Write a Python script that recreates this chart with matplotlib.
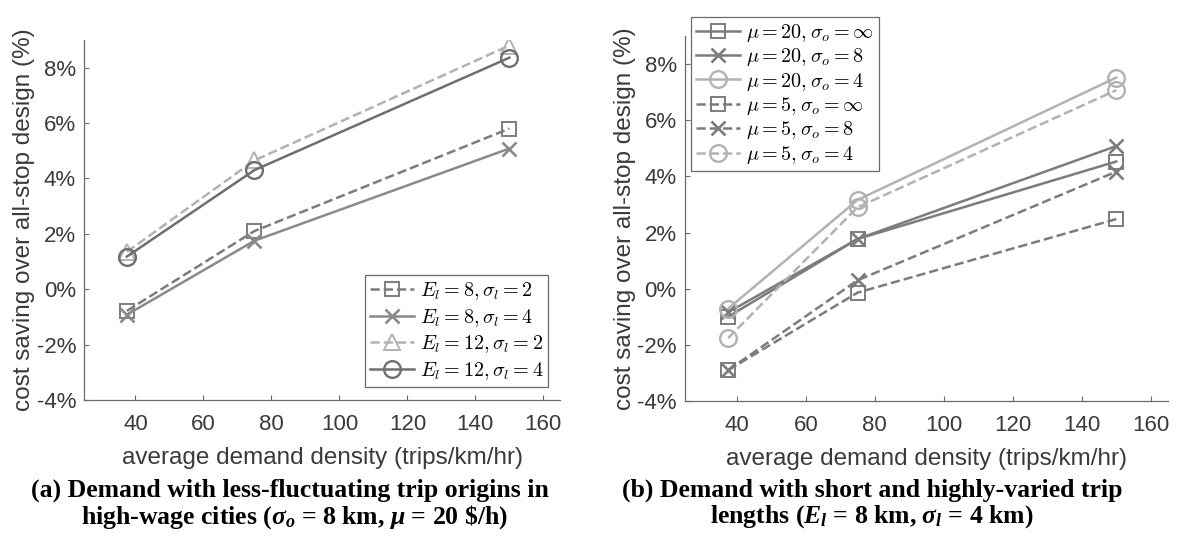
import matplotlib
matplotlib.use("Agg")
import matplotlib.pyplot as plt
from matplotlib.font_manager import FontProperties

plt.rcParams['font.family'] = ['Liberation Sans', 'DejaVu Sans']
plt.rcParams['mathtext.fontset'] = 'custom'
plt.rcParams['mathtext.rm'] = 'Liberation Serif:bold'
plt.rcParams['mathtext.it'] = 'Liberation Serif:bold:italic'
plt.rcParams['mathtext.bf'] = 'Liberation Serif:bold'

# ---- data ----
density = [37.5, 75, 150]

left_labels = [r'$E_l = 8, \sigma_l = 2$', r'$E_l = 8, \sigma_l = 4$',
               r'$E_l = 12, \sigma_l = 2$', r'$E_l = 12, \sigma_l = 4$']
e8_s2 = [-0.78, 2.10, 5.80]
e8_s4 = [-0.92, 1.75, 5.08]
e12_s2 = [1.35, 4.65, 8.80]
e12_s4 = [1.18, 4.30, 8.36]

right_labels = [r'$\mu = 20, \sigma_o = \infty$', r'$\mu = 20, \sigma_o = 8$',
                r'$\mu = 20, \sigma_o = 4$', r'$\mu = 5, \sigma_o = \infty$',
                r'$\mu = 5, \sigma_o = 8$', r'$\mu = 5, \sigma_o = 4$']
m20_inf = [-1.00, 1.77, 4.53]
m20_8 = [-0.84, 1.77, 5.08]
m20_4 = [-0.71, 3.16, 7.52]
m5_inf = [-2.90, -0.14, 2.48]
m5_8 = [-2.90, 0.30, 4.17]
m5_4 = [-1.76, 2.90, 7.07]

yticks = [-4, -2, 0, 2, 4, 6, 8]
ytick_labels = ['-4%', '-2%', '0%', '2%', '4%', '6%', '8%']
xticks = [40, 60, 80, 100, 120, 140, 160]

xlabel = 'average demand density (trips/km/hr)'
ylabel = 'cost saving over all-stop design (%)'
cap_a = ['(a) Demand with less-fluctuating trip origins in',
         r'high-wage cities ($\sigma_o$ = 8 km, $\mu$ = 20 \$/h)']
cap_b = ['(b) Demand with short and highly-varied trip',
         r'lengths ($E_l$ = 8 km, $\sigma_l$ = 4 km)']

DARK = '#6e6e6e'
MID = '#7c7c7c'
MID2 = '#8a8a8a'
LIGHT = '#b2b2b2'

fig = plt.figure(figsize=(11.77, 5.38), dpi=100)
axL = fig.add_axes([0.0717, 0.2565, 0.4044, 0.6692])
axR = fig.add_axes([0.582, 0.2546, 0.4104, 0.6785])

legprop = FontProperties(family='DejaVu Serif', size=14.5, math_fontfamily='cm')


def style(ax):
    ax.set_xlim(25, 165)
    ax.set_ylim(-4, 9)
    ax.set_xticks(xticks)
    ax.set_yticks(yticks)
    ax.set_yticklabels(ytick_labels)
    for s in ['top', 'right']:
        ax.spines[s].set_visible(False)
    for s in ['left', 'bottom']:
        ax.spines[s].set_color('#6a6a6a')
        ax.spines[s].set_linewidth(0.9)
    ax.tick_params(axis='both', direction='in', length=3.5, width=0.8,
                   color='#6a6a6a', labelsize=16, labelcolor='#3a3a3a')
    ax.tick_params(axis='x', pad=10)
    ax.tick_params(axis='y', pad=6)
    ax.set_xlabel(xlabel, fontsize=17.5, color='#3a3a3a', labelpad=9)
    ax.set_ylabel(ylabel, fontsize=17.5, color='#3a3a3a', labelpad=1)


lw = 1.8
ms_sq = 9.5
ms_x = 10
ms_c = 12
# left panel
axL.plot(density, e8_s2, ls='--', color=MID, lw=lw, marker='s', ms=ms_sq, mfc='none', mew=1.4, label=left_labels[0])
axL.plot(density, e8_s4, ls='-', color=MID2, lw=lw, marker='x', ms=ms_x, mew=1.9, label=left_labels[1])
axL.plot(density, e12_s2, ls='--', color=LIGHT, lw=lw, marker='^', ms=ms_c, mfc='none', mew=1.4, label=left_labels[2])
axL.plot(density, e12_s4, ls='-', color=DARK, lw=lw, marker='o', ms=ms_c, mfc='none', mew=1.7, label=left_labels[3])
style(axL)
legL = axL.legend(loc='lower right', bbox_to_anchor=(0.975, 0.035), prop=legprop,
                  frameon=True, fancybox=False, edgecolor='#6a6a6a', framealpha=1,
                  handlelength=2.2, handletextpad=0.3, borderpad=0.25,
                  labelspacing=0.25, borderaxespad=0)
legL.get_frame().set_linewidth(0.9)

# right panel
axR.plot(density, m20_inf, ls='-', color=MID, lw=lw, marker='s', ms=ms_sq, mfc='none', mew=1.4, label=right_labels[0])
axR.plot(density, m20_8, ls='-', color=MID, lw=lw, marker='x', ms=ms_x, mew=1.9, label=right_labels[1])
axR.plot(density, m20_4, ls='-', color=LIGHT, lw=lw, marker='o', ms=ms_c, mfc='none', mew=1.7, label=right_labels[2])
axR.plot(density, m5_inf, ls='--', color=MID, lw=lw, marker='s', ms=ms_sq, mfc='none', mew=1.4, label=right_labels[3])
axR.plot(density, m5_8, ls='--', color=MID, lw=lw, marker='x', ms=ms_x, mew=1.9, label=right_labels[4])
axR.plot(density, m5_4, ls='--', color=LIGHT, lw=lw, marker='o', ms=ms_c, mfc='none', mew=1.7, label=right_labels[5])
style(axR)
legR = axR.legend(loc='upper left', bbox_to_anchor=(0.0124, 1.053), prop=legprop,
                  frameon=True, fancybox=False, edgecolor='#6a6a6a', framealpha=1,
                  handlelength=2.2, handletextpad=0.3, borderpad=0.25,
                  labelspacing=0.12, borderaxespad=0)
legR.get_frame().set_linewidth(0.9)

# captions
capfont = dict(family='Liberation Serif', fontweight='bold', fontsize=18.5,
               ha='center', va='center', math_fontfamily='custom')
fig.text(290 / 1177, 1 - 490 / 538, cap_a[0], **capfont)
fig.text(295 / 1177, 1 - 517 / 538, cap_a[1], **capfont)
fig.text(872 / 1177, 1 - 490 / 538, cap_b[0], **capfont)
fig.text(872 / 1177, 1 - 517 / 538, cap_b[1], **capfont)

fig.savefig('out.png', dpi=100)
